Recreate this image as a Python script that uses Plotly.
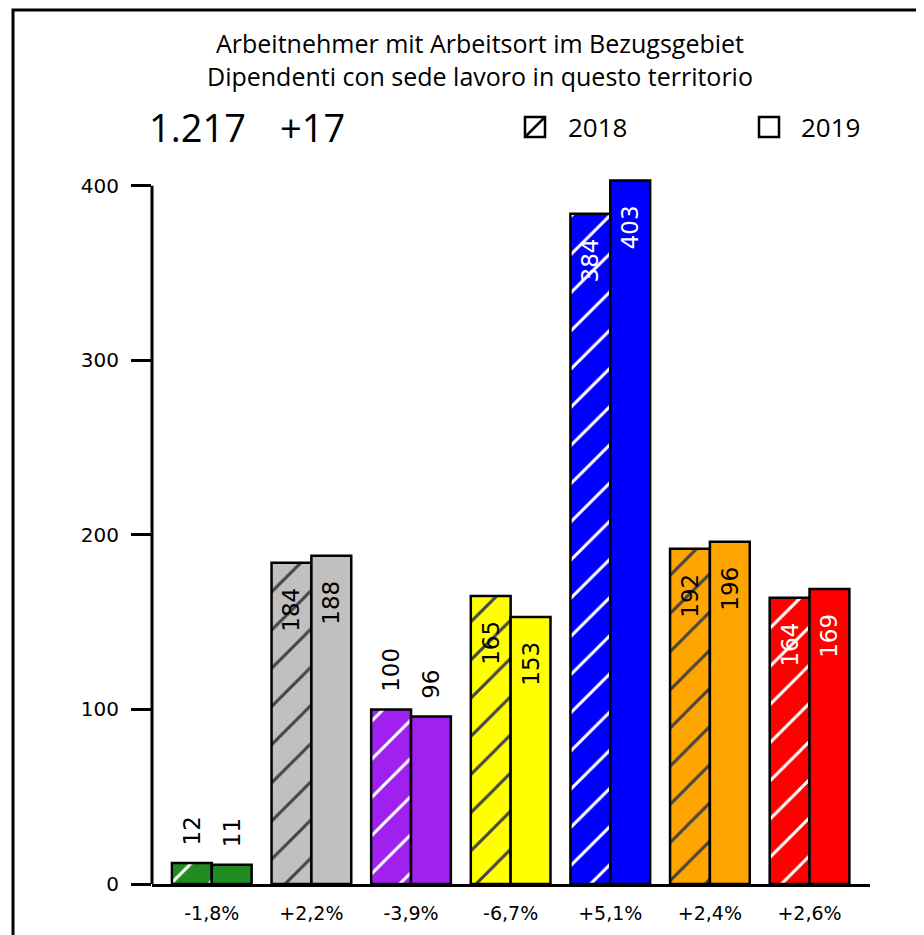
import plotly.graph_objects as go

# ---- data ----
categories = ["A", "B", "C", "D", "E", "F", "G"]
values_2018 = [12, 184, 100, 165, 384, 192, 164]
values_2019 = [11, 188, 96, 153, 403, 196, 169]
pct_labels = ["-1,8%", "+2,2%", "-3,9%", "-6,7%", "+5,1%", "+2,4%", "+2,6%"]
bar_colors = ["#228B22", "#C0C0C0", "#A020F0", "#FFFF00", "#0000FF", "#FFA500", "#FF0000"]
hatch_colors = ["white", "black", "white", "black", "white", "black", "white"]
label_colors = ["black", "black", "black", "black", "white", "black", "white"]
total_text = "1.217"
delta_text = "+17"
title_lines = ["Arbeitnehmer mit Arbeitsort im Bezugsgebiet",
               "Dipendenti con sede lavoro in questo territorio"]
y_ticks = [0, 100, 200, 300, 400]
y_max_axis = 400
y_max_range = 405

# ---- layout (the page has an 8px body margin) ----
OFF = 8
W, H = 924 - OFF, 935 - OFF
L, R, B = 144, 54, 51
T = 169
PW, PH = W - L - R, H - T - B


def px(x):  # reference screen x -> paper
    return (x - OFF - L) / PW


def py(y):  # reference screen y -> paper
    return (H - B - (y - OFF)) / PH


xs = list(range(len(categories)))
NB = "\u00a0"


def positions(vals):
    return ["inside" if v >= 150 else "outside" for v in vals]


def labels(vals):
    return [(str(v) + NB * 3) if v >= 150 else (NB * 2 + str(v)) for v in vals]


LABEL_FONT = "DejaVu Sans"
TEXT_FONT = "Open Sans"

fig = go.Figure()
fig.add_trace(go.Bar(
    x=xs, y=values_2018, name="2018",
    marker=dict(color=bar_colors, line=dict(color="black", width=2.5),
                pattern=dict(shape="/", fgcolor=hatch_colors, bgcolor=bar_colors,
                             fgopacity=1, size=27, solidity=0.11)),
    text=labels(values_2018), textposition=positions(values_2018),
    textangle=-90, insidetextanchor="end", constraintext="none",
    insidetextfont=dict(family=LABEL_FONT, size=23, color=label_colors),
    outsidetextfont=dict(family=LABEL_FONT, size=23, color="black"),
    cliponaxis=False, showlegend=False,
))
fig.add_trace(go.Bar(
    x=xs, y=values_2019, name="2019",
    marker=dict(color=bar_colors, line=dict(color="black", width=2.5)),
    text=labels(values_2019), textposition=positions(values_2019),
    textangle=-90, insidetextanchor="end", constraintext="none",
    insidetextfont=dict(family=LABEL_FONT, size=23, color=label_colors),
    outsidetextfont=dict(family=LABEL_FONT, size=23, color="black"),
    cliponaxis=False, showlegend=False,
))

shapes = []
# outer frame (extends beyond the picture to the right and bottom)
shapes.append(dict(type="rect", xref="paper", yref="paper",
                   x0=px(13), x1=px(960), y0=py(980), y1=py(10),
                   line=dict(color="black", width=3), layer="below"))
# y axis line up to 400 only
shapes.append(dict(type="line", xref="paper", yref="y",
                   x0=0, x1=0, y0=0, y1=y_max_axis,
                   line=dict(color="black", width=3)))
# legend symbols
shapes.append(dict(type="rect", xref="paper", yref="paper",
                   x0=px(525), x1=px(545), y0=py(137), y1=py(117),
                   line=dict(color="black", width=2.5)))
shapes.append(dict(type="line", xref="paper", yref="paper",
                   x0=px(525), x1=px(545), y0=py(137), y1=py(117),
                   line=dict(color="black", width=2.5)))
shapes.append(dict(type="rect", xref="paper", yref="paper",
                   x0=px(759), x1=px(779), y0=py(137), y1=py(117),
                   line=dict(color="black", width=2.5)))

annotations = []


def ann(text, x, y, size, xanchor="center"):
    annotations.append(dict(text=text, xref="paper", yref="paper",
                            x=px(x), y=py(y), xanchor=xanchor, yanchor="middle",
                            showarrow=False,
                            font=dict(family=TEXT_FONT, size=size, color="black")))


ann(title_lines[0] + "<br>" + title_lines[1], 480, 59, 25)
ann(total_text, 197, 127, 38)
ann(delta_text, 312, 127, 38)
ann("2018", 566, 127, 26, "left")
ann("2019", 799, 127, 26, "left")

fig.update_layout(
    width=W, height=H,
    margin=dict(l=L, r=R, t=T, b=B, pad=0),
    paper_bgcolor="white", plot_bgcolor="white",
    barmode="group", bargap=0.2, bargroupgap=0,
    showlegend=False,
    shapes=shapes, annotations=annotations,
    xaxis=dict(range=[-0.6, 6.607], tickmode="array", tickvals=xs, ticktext=pct_labels,
               showgrid=False, zeroline=False, showline=True, linecolor="black",
               linewidth=3, ticks="", ticklabelstandoff=10,
               tickfont=dict(family=LABEL_FONT, size=19, color="black"),
               fixedrange=True),
    yaxis=dict(range=[0, y_max_range], tickmode="array", tickvals=y_ticks,
               showgrid=False, zeroline=False, showline=False,
               ticks="outside", ticklen=20, tickwidth=3, tickcolor="black",
               ticklabelstandoff=8,
               tickfont=dict(family=LABEL_FONT, size=20, color="black"),
               fixedrange=True),
)

fig.write_html("out.html")
